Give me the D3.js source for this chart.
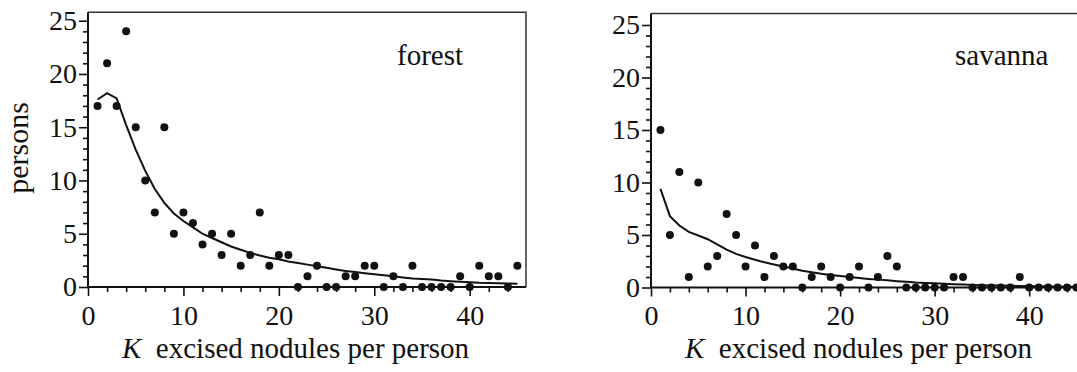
<!DOCTYPE html>
<html lang="en">
<head>
    <meta charset="UTF-8">
    <title>Excised nodules per person</title>
    <script src="https://d3js.org/d3.v7.min.js"></script>
    <style>
        body { margin: 0; background: #fff; }
        svg { display: block; font-family: "Liberation Serif", "Times New Roman", serif; }
        .domain { stroke: #111; stroke-width: 2; }
        .tick line { stroke: #111; stroke-width: 1.6; }
    </style>
</head>
<body>
    <svg id="chart" width="1077" height="372"></svg>

    <script>
        // K = number of excised nodules per person
        const nodules = [1, 2, 3, 4, 5, 6, 7, 8, 9, 10, 11, 12, 13, 14, 15, 16, 17, 18, 19, 20,
            21, 22, 23, 24, 25, 26, 27, 28, 29, 30, 31, 32, 33, 34, 35, 36, 37, 38, 39, 40,
            41, 42, 43, 44, 45];

        // observed number of persons
        const forestPersons = [17, 21, 17, 24, 15, 10, 7, 15, 5, 7, 6, 4, 5, 3, 5, 2, 3, 7, 2, 3,
            3, 0, 1, 2, 0, 0, 1, 1, 2, 2, 0, 1, 0, 2, 0, 0, 0, 0, 1, 0,
            2, 1, 1, 0, 2];
        const savannaPersons = [15, 5, 11, 1, 10, 2, 3, 7, 5, 2, 4, 1, 3, 2, 2, 0, 1, 2, 1, 0,
            1, 2, 0, 1, 3, 2, 0, 0, 0, 0, 0, 1, 1, 0, 0, 0, 0, 0, 1, 0,
            0, 0, 0, 0, 0];

        // fitted curves
        const forestFit = [17.6, 18.2, 17.7, 15.2, 12.9, 10.9, 9.2, 7.9, 6.9, 6.2, 5.6, 5.0, 4.6, 4.2, 3.8,
            3.5, 3.2, 2.95, 2.75, 2.6, 2.4, 2.25, 2.1, 1.95, 1.8, 1.65, 1.5, 1.4, 1.3, 1.2,
            1.1, 1.0, 0.9, 0.8, 0.75, 0.7, 0.6, 0.55, 0.5, 0.45, 0.4, 0.38, 0.35, 0.32, 0.3];
        const savannaFit = [9.4, 6.8, 5.9, 5.3, 4.95, 4.6, 4.1, 3.6, 3.2, 2.9, 2.65, 2.4, 2.2, 2.0, 1.8,
            1.6, 1.45, 1.3, 1.2, 1.1, 1.0, 0.9, 0.82, 0.75, 0.68, 0.6, 0.54, 0.48, 0.44, 0.4,
            0.36, 0.32, 0.28, 0.25, 0.22, 0.2, 0.18, 0.16, 0.14, 0.12, 0.11, 0.1, 0.09, 0.08, 0.07];

        const xMajor = [0, 10, 20, 30, 40];
        const xMinor = [2, 4, 6, 8, 12, 14, 16, 18, 22, 24, 26, 28, 32, 34, 36, 38, 42, 44];
        const yMajor = [0, 5, 10, 15, 20, 25];
        const yMinor = [1, 2, 3, 4, 6, 7, 8, 9, 11, 12, 13, 14, 16, 17, 18, 19, 21, 22, 23, 24];

        const serif = "'Liberation Serif', 'Times New Roman', serif";
        const svg = d3.select("#chart");

        function styleLabels(sel) {
            sel.attr("font-family", null).attr("font-size", null);
            sel.selectAll("text")
                .style("font-family", serif)
                .style("font-size", "28px")
                .style("fill", "#111");
        }

        function drawPanel(opts) {
            const x = d3.scaleLinear().domain([0, opts.xMax]).range([opts.left, opts.left + opts.width]);
            const y = d3.scaleLinear().domain([0, 25]).range([opts.zeroY, opts.topTickY]);
            const top = y(opts.yMax);
            const g = svg.append("g");

            // frame top / right
            g.append("path")
                .attr("d", `M${x(0)},${top}H${x(opts.xMax)}V${y(0)}`)
                .attr("fill", "none")
                .attr("stroke", "#333")
                .attr("stroke-width", 1.5);

            // minor ticks
            g.append("g").attr("transform", `translate(0,${y(0)})`)
                .call(d3.axisBottom(x).tickValues(xMinor).tickSize(5).tickFormat(""))
                .call(s => s.select(".domain").remove());
            g.append("g").attr("transform", `translate(${x(0)},0)`)
                .call(d3.axisLeft(y).tickValues(yMinor).tickSize(5).tickFormat(""))
                .call(s => s.select(".domain").remove());

            // major axes
            g.append("g").attr("transform", `translate(0,${y(0)})`)
                .call(d3.axisBottom(x).tickValues(xMajor).tickSize(9).tickSizeOuter(0).tickPadding(9))
                .call(s => s.select(".domain").attr("d", `M${x(0)},0H${x(opts.xMax)}`))
                .call(styleLabels);
            g.append("g").attr("transform", `translate(${x(0)},0)`)
                .call(d3.axisLeft(y).tickValues(yMajor).tickSize(9).tickSizeOuter(0).tickPadding(2))
                .call(s => s.select(".domain").attr("d", `M0,${y(0)}V${top}`))
                .call(styleLabels);

            // fitted curve
            const line = d3.line().x((d, i) => x(nodules[i])).y(d => y(d));
            g.append("path")
                .datum(opts.fit)
                .attr("d", line)
                .attr("fill", "none")
                .attr("stroke", "#111")
                .attr("stroke-width", 2);

            // observed points
            g.selectAll(".dot")
                .data(opts.persons)
                .enter().append("circle")
                .attr("class", "dot")
                .attr("cx", (d, i) => x(nodules[i]))
                .attr("cy", d => y(d))
                .attr("r", 4)
                .attr("fill", "#111");

            // panel label
            g.append("text")
                .attr("x", opts.labelX)
                .attr("y", 65)
                .attr("font-size", 29)
                .attr("fill", "#111")
                .text(opts.label);

            // x title
            const t = g.append("text")
                .attr("x", x(0) + 34)
                .attr("y", 358)
                .attr("font-size", 29)
                .attr("fill", "#111")
                .attr("xml:space", "preserve");
            t.append("tspan").attr("font-style", "italic").text("K");
            t.append("tspan").text("  excised nodules per person");
        }

        drawPanel({ left: 88, width: 438, xMax: 45.9, zeroY: 287, topTickY: 20.7, yMax: 25.8,
            persons: forestPersons, fit: forestFit, label: "forest", labelX: 397 });
        drawPanel({ left: 651, width: 434, xMax: 45.9, zeroY: 287.5, topTickY: 25, yMax: 26.1,
            persons: savannaPersons, fit: savannaFit, label: "savanna", labelX: 955 });

        svg.append("text")
            .attr("transform", "translate(28,148) rotate(-90)")
            .attr("text-anchor", "middle")
            .attr("font-size", 30)
            .attr("fill", "#111")
            .text("persons");
    </script>
</body>
</html>
